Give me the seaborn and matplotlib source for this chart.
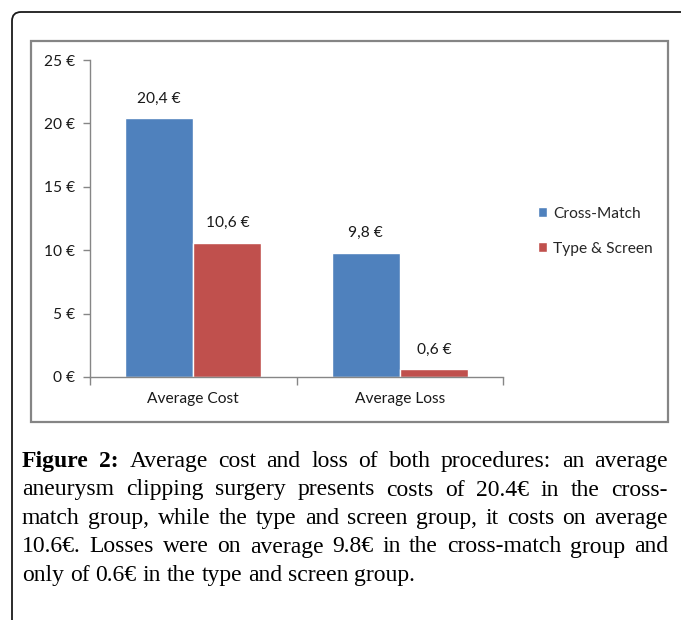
import matplotlib
matplotlib.use("Agg")
import matplotlib.pyplot as plt
import seaborn as sns
import pandas as pd
from matplotlib.patches import FancyBboxPatch, Rectangle
from matplotlib.transforms import IdentityTransform

# chart data
categories = ["Average Cost", "Average Loss"]
groups = ["Cross-Match", "Type & Screen"]
cross_match = [20.4, 9.8]
type_screen = [10.6, 0.6]
y_ticks = [0, 5, 10, 15, 20, 25]
colors = ["#4F81BD", "#C0504D"]

caption_lines = [
    "Average cost and loss of both procedures: an average",
    "aneurysm clipping surgery presents costs of 20.4€ in the cross-",
    "match group, while the type and screen group, it costs on average",
    "10.6€. Losses were on average 9.8€ in the cross-match group and",
    "only of 0.6€ in the type and screen group.",
]

df = pd.DataFrame({
    "category": categories * 2,
    "group": [groups[0]] * 2 + [groups[1]] * 2,
    "value": cross_match + type_screen,
})

W, H = 681, 620
FS = 11.2
sns.set_theme(style="white")
plt.rcParams["font.family"] = ["Lato", "DejaVu Sans"]
fig = plt.figure(figsize=(W / 100, H / 100), dpi=100)
fig.patch.set_facecolor("white")


def px(x0, y0, x1, y1):
    # pixel box (top-left origin) -> figure fraction rect
    return [x0 / W, 1 - y1 / H, (x1 - x0) / W, (y1 - y0) / H]


# outer frame with rounded corner
frame = FancyBboxPatch((12, -40), W + 40, H - 12 + 40,
                       boxstyle="round,pad=0,rounding_size=9",
                       transform=IdentityTransform(), fill=False,
                       edgecolor="#1a1a1a", linewidth=1.3)
fig.patches.append(frame)

# chart area box
fig.patches.append(Rectangle((31 / W, 1 - 422 / H), (668 - 31) / W, (422 - 41) / H,
                             transform=fig.transFigure, fill=False,
                             edgecolor="#858585", linewidth=1.6))

ax = fig.add_axes(px(90, 60, 503, 377))
sns.barplot(data=df, x="category", y="value", hue="group", hue_order=groups,
            palette=colors, width=0.66, saturation=1, ax=ax)

for cont in ax.containers:
    ax.bar_label(cont, labels=[f"{v:.1f} €".replace(".", ",") for v in cont.datavalues],
                 padding=9, fontsize=FS, color="#1a1a1a")

ax.set_xlim(-0.5, 1.5)
ax.set_ylim(0, 25)
ax.set_yticks(y_ticks)
ax.set_yticklabels([f"{t} €" for t in y_ticks])
ax.set_xticks([-0.5, 0.5, 1.5], minor=True)
ax.tick_params(axis="x", which="minor", length=6, width=1, color="#868686", direction="out", bottom=True)
ax.tick_params(axis="x", which="major", length=0, pad=11, labelsize=FS, labelcolor="#1a1a1a")
ax.tick_params(axis="y", length=5, width=1, color="#868686", direction="out", left=True,
               pad=6, labelsize=FS, labelcolor="#1a1a1a")
ax.set_xlabel("")
ax.set_ylabel("")
for s in ["top", "right"]:
    ax.spines[s].set_visible(False)
for s in ["left", "bottom"]:
    ax.spines[s].set_color("#868686")
    ax.spines[s].set_linewidth(1)

ax.legend(loc="center left", bbox_to_anchor=(524 / W, 1 - 231 / H),
          bbox_transform=fig.transFigure, frameon=False, fontsize=FS,
          handlelength=0.6, handleheight=0.6, handletextpad=0.35, labelspacing=1.35)

# justified caption
renderer = fig.canvas.get_renderer()
cap_font = dict(family=["Liberation Serif", "DejaVu Serif"], size=17, color="#000000")
left, right = 22, 668
baselines = [467, 495.5, 524, 552.5, 581]


def word_width(word, **kw):
    t = fig.text(0, 0, word, **kw)
    w = t.get_window_extent(renderer).width
    t.remove()
    return w


for i, line in enumerate(caption_lines):
    words = [(w, {}) for w in line.split(" ")]
    if i == 0:
        words = [("Figure", {"weight": "bold"}), ("2:", {"weight": "bold"})] + words
    widths = [word_width(w, **cap_font, **kw) for w, kw in words]
    if i < len(caption_lines) - 1:
        gap = (right - left - sum(widths)) / (len(words) - 1)
    else:
        gap = word_width("a b", **cap_font) - word_width("ab", **cap_font)
    x = left
    y = 1 - baselines[i] / H
    for (w, kw), wd in zip(words, widths):
        fig.text(x / W, y, w, ha="left", va="baseline", **cap_font, **kw)
        x += wd + gap

fig.savefig("out.png", dpi=100, facecolor="white")
